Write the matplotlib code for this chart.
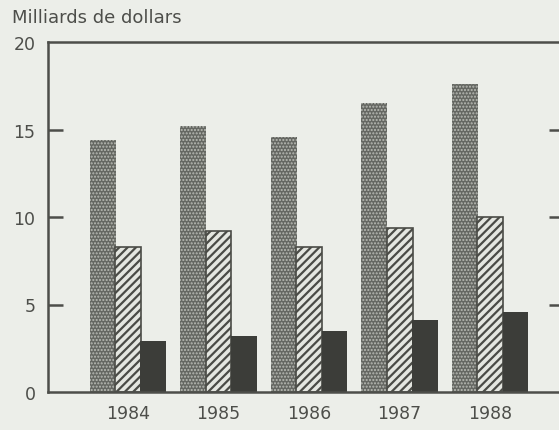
import numpy as np
import matplotlib
matplotlib.use("Agg")
import matplotlib.pyplot as plt

plt.rcParams['font.family'] = ['DejaVu Sans']

years = ['1984', '1985', '1986', '1987', '1988']
dotted = [14.4, 15.2, 14.6, 16.5, 17.6]
hatched = [8.3, 9.2, 8.3, 9.4, 10.0]
dark = [2.9, 3.2, 3.5, 4.1, 4.6]

paper = '#eceee9'
ink = '#4d4e4a'

fig = plt.figure(figsize=(5.59, 4.31), dpi=100, facecolor=paper)
ax = fig.add_axes([48 / 559, 38 / 431, 1 - 48 / 559, 350 / 431])
ax.set_facecolor(paper)

x = np.arange(len(years))
w = 0.285
off = 0.28

# dotted series: dark fill with light dot pattern on top
ax.bar(x - off, dotted, w, color='#656762', linewidth=0)
ax.bar(x - off, dotted, w, facecolor='none', edgecolor='#b9bbb5', linewidth=0, hatch='.....')
# hatched series: dense diagonal stripes
plt.rcParams['hatch.linewidth'] = 1.6
ax.bar(x, hatched, w, facecolor='#e4e6e0', edgecolor='#4a4b46', linewidth=1.2, hatch='////')
# solid series
ax.bar(x + off, dark, w, color='#3c3d39', linewidth=0)

ax.set_xlim(-0.884, 4.76)
ax.set_ylim(0, 20)

for s in ['left', 'top', 'bottom']:
    ax.spines[s].set_color(ink)
    ax.spines[s].set_linewidth(1.8)
ax.spines['right'].set_visible(False)

ax.set_yticks([0, 5, 10, 15, 20])
ax.set_yticklabels(['0', '5', '10', '15', '20'])
ax.tick_params(axis='y', direction='in', length=11, width=1.8, color=ink,
               labelsize=12.5, labelcolor=ink, pad=9, right=True)
# no tick marks at the frame ends
for t in (ax.yaxis.get_major_ticks()[0], ax.yaxis.get_major_ticks()[-1]):
    t.tick1line.set_visible(False)
    t.tick2line.set_visible(False)
for t in ax.yaxis.get_major_ticks():
    t.tick2line.set_markersize(7)

ax.set_xticks(x)
ax.set_xticklabels(years)
ax.tick_params(axis='x', length=0, labelsize=12.5, labelcolor=ink, pad=9)

fig.text(12 / 559, 1 - 18 / 431, 'Milliards de dollars', fontsize=13, color=ink,
         ha='left', va='center')

fig.savefig('out.png', dpi=100, facecolor=paper)
